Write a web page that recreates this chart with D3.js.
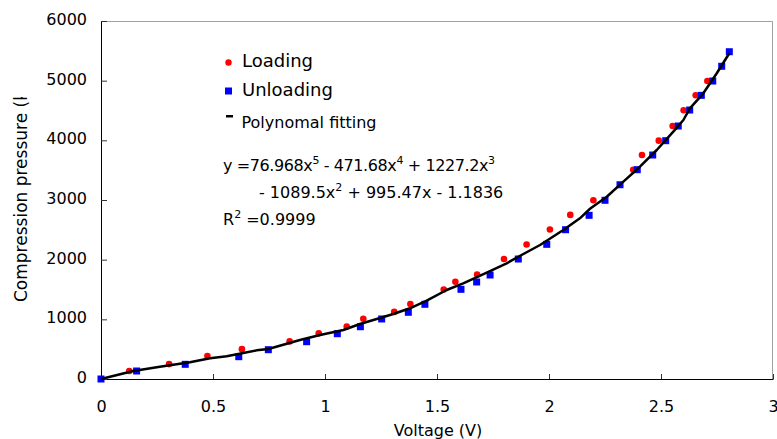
<!DOCTYPE html>
<html>
<head>
<meta charset="utf-8">
<script src="https://cdn.jsdelivr.net/npm/d3@7"></script>
<style>
  body { margin: 0; background: #fff; }
  text { font-family: "DejaVu Sans", Verdana, sans-serif; fill: #000; }
</style>
</head>
<body>
<div id="chart"></div>
<script>
// data: [voltage (V), pressure (kPa)]
var loading = [
  [0.126, 135], [0.304, 250], [0.475, 385], [0.629, 500], [0.842, 630],
  [0.972, 765], [1.097, 880], [1.171, 1010], [1.309, 1125], [1.381, 1255],
  [1.530, 1500], [1.582, 1630], [1.679, 1750], [1.799, 2010], [1.900, 2255],
  [2.004, 2505], [2.095, 2750], [2.198, 2995], [2.376, 3505], [2.415, 3755],
  [2.490, 3995], [2.552, 4240], [2.601, 4505], [2.655, 4755], [2.707, 4995]
];

var unloading = [
  [0, 0], [0.159, 134], [0.376, 246], [0.615, 374], [0.747, 491],
  [0.918, 625], [1.055, 759], [1.158, 876], [1.253, 1006], [1.372, 1118],
  [1.446, 1252], [1.607, 1503], [1.677, 1626], [1.737, 1743], [1.863, 2011],
  [1.990, 2257], [2.074, 2502], [2.179, 2743], [2.250, 2995], [2.317, 3256],
  [2.394, 3508], [2.463, 3754], [2.521, 3994], [2.577, 4240], [2.628, 4508],
  [2.680, 4754], [2.731, 4994], [2.771, 5241], [2.805, 5485]
];

// fitted curve as drawn in the picture
var fitting = [
  [0, 0], [0.144, 134], [0.263, 206], [0.397, 280], [0.487, 347],
  [0.561, 380], [0.695, 480], [0.747, 502], [0.888, 654], [0.978, 737],
  [1.082, 821], [1.156, 922], [1.216, 989], [1.305, 1089], [1.379, 1185],
  [1.454, 1312], [1.543, 1492], [1.617, 1604], [1.722, 1782], [1.811, 1939],
  [1.871, 2066], [1.960, 2246], [2.064, 2497], [2.138, 2693], [2.183, 2853],
  [2.258, 3055], [2.332, 3307], [2.406, 3558], [2.481, 3838], [2.555, 4145],
  [2.600, 4341], [2.629, 4537], [2.689, 4788], [2.749, 5124], [2.805, 5460]
];

var xTicks = [0, 0.5, 1, 1.5, 2, 2.5, 3];
var yTicks = [0, 1000, 2000, 3000, 4000, 5000, 6000];

var svgWidth = 777;
var svgHeight = 439;

var margin = {
  top: 21,
  right: 4,
  bottom: 60,
  left: 101
};

var chartWidth = svgWidth - margin.left - margin.right;
var chartHeight = svgHeight - margin.top - margin.bottom;

var svg = d3.select("#chart")
  .append("svg")
  .attr("width", svgWidth)
  .attr("height", svgHeight);

var chartGroup = svg.append("g")
  .attr("transform", `translate(${margin.left},${margin.top})`);

var xScale = d3.scaleLinear()
  .domain([0, 3])
  .range([0, chartWidth]);

var yScale = d3.scaleLinear()
  .domain([0, 6000])
  .range([chartHeight, 0]);

// grey frame on top and right
chartGroup.append("path")
  .attr("d", `M0,0.5H${chartWidth - 0.5}V${chartHeight}`)
  .attr("fill", "none")
  .attr("stroke", "#a0a0a0")
  .attr("stroke-width", 1);

var bottomAxis = d3.axisBottom(xScale)
  .tickValues(xTicks)
  .tickFormat(d => d)
  .tickSizeInner(-5)
  .tickSizeOuter(0)
  .tickPadding(22);

var leftAxis = d3.axisLeft(yScale)
  .tickValues(yTicks)
  .tickFormat(d => d)
  .tickSizeInner(-6)
  .tickSizeOuter(0)
  .tickPadding(14);

var xAxis = chartGroup.append("g")
  .attr("transform", `translate(0, ${chartHeight})`)
  .call(bottomAxis);

var yAxis = chartGroup.append("g")
  .call(leftAxis);

[xAxis, yAxis].forEach(function(ax) {
  ax.select(".domain").attr("stroke", "#000");
  ax.selectAll(".tick line").attr("stroke", "#333");
  ax.selectAll("text")
    .style("font-size", "16px")
    .style("font-family", "'DejaVu Sans', Verdana, sans-serif")
    .attr("fill", "#000");
});
yAxis.selectAll("text").attr("dy", "0.22em");

// loading points
chartGroup.selectAll("circle.load")
  .data(loading)
  .enter()
  .append("circle")
  .attr("class", "load")
  .attr("cx", d => xScale(d[0]))
  .attr("cy", d => yScale(d[1]))
  .attr("r", 3.3)
  .attr("fill", "#ff0000");

// unloading points
chartGroup.selectAll("rect.unload")
  .data(unloading)
  .enter()
  .append("rect")
  .attr("class", "unload")
  .attr("x", d => xScale(d[0]) - 3.5)
  .attr("y", d => yScale(d[1]) - 3.5)
  .attr("width", 7)
  .attr("height", 7)
  .attr("fill", "#0000ff");

var line = d3.line()
  .x(d => xScale(d[0]))
  .y(d => yScale(d[1]));

chartGroup.append("path")
  .datum(fitting)
  .attr("d", line)
  .attr("fill", "none")
  .attr("stroke", "#000")
  .attr("stroke-width", 2.5)
  .attr("stroke-linejoin", "round");

// legend
svg.append("circle")
  .attr("cx", 228.5).attr("cy", 62.5).attr("r", 3.2)
  .attr("fill", "#ff0000");
svg.append("text")
  .attr("x", 242).attr("y", 67)
  .style("font-size", "18px")
  .text("Loading");

svg.append("rect")
  .attr("x", 225).attr("y", 87.5).attr("width", 7).attr("height", 7)
  .attr("fill", "#0000ff");
svg.append("text")
  .attr("x", 242).attr("y", 95.5)
  .style("font-size", "18px")
  .text("Unloading");

svg.append("rect")
  .attr("x", 226).attr("y", 115).attr("width", 7).attr("height", 2.5)
  .attr("fill", "#000");
svg.append("text")
  .attr("x", 241.5).attr("y", 127.5)
  .style("font-size", "16px")
  .text("Polynomal fitting");

// fitted equation; parts are [text, isSuperscript]
function eqLine(x, y, parts, spacing) {
  var t = svg.append("text")
    .attr("x", x).attr("y", y)
    .style("font-size", "16px")
    .style("letter-spacing", (spacing || 0) + "px");
  var raised = false;
  parts.forEach(function(p) {
    var span = t.append("tspan").text(p[0]);
    if (p[1]) {
      span.attr("dy", -7).style("font-size", "11px");
      raised = true;
    } else if (raised) {
      span.attr("dy", 7);
      raised = false;
    }
  });
}

eqLine(223, 171, [["y =76.968x"], ["5", 1], [" - 471.68x"], ["4", 1], [" + 1227.2x"], ["3", 1]], -0.4);
eqLine(259, 198, [["- 1089.5x"], ["2", 1], [" + 995.47x - 1.1836"]]);
eqLine(223, 225, [["R"], ["2", 1], [" =0.9999"]]);

// axis titles
svg.append("text")
  .attr("x", margin.left + 337)
  .attr("y", 436)
  .attr("text-anchor", "middle")
  .style("font-size", "16px")
  .text("Voltage (V)");

svg.append("clipPath")
  .attr("id", "yclip")
  .append("rect")
  .attr("x", 0).attr("y", 97).attr("width", 60).attr("height", 320);

svg.append("g")
  .attr("clip-path", "url(#yclip)")
  .append("text")
  .attr("transform", "translate(27, 302) rotate(-90)")
  .style("font-size", "17px")
  .text("Compression pressure (kPa)");
</script>
</body>
</html>
